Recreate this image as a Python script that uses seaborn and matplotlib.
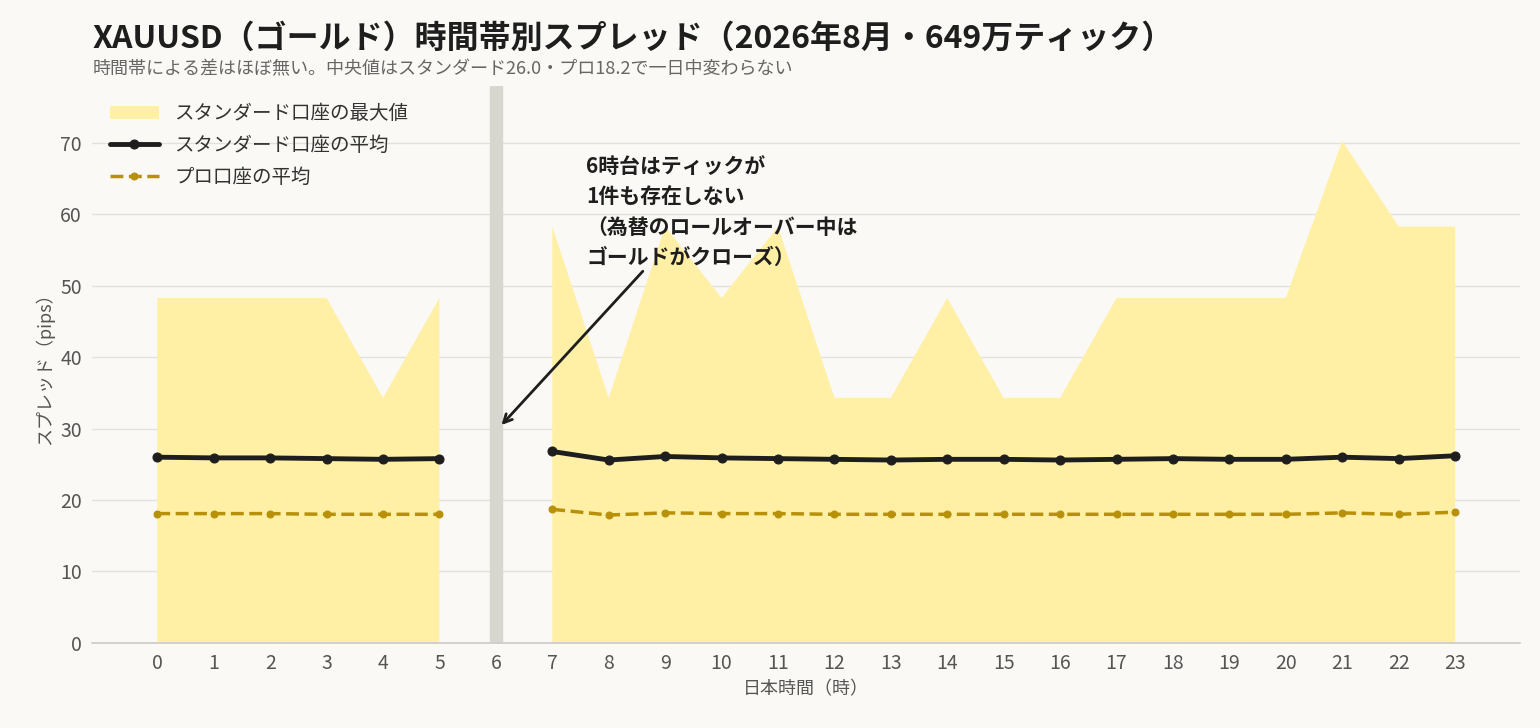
import numpy as np
import pandas as pd
import matplotlib
matplotlib.use("Agg")
import matplotlib.pyplot as plt
import seaborn as sns

hours = list(range(24))
std_max = [48.3,48.3,48.3,48.3,34.3,48.3,np.nan,58.3,34.3,58.3,48.3,58.3,34.3,34.3,48.3,34.3,34.3,48.3,48.3,48.3,48.3,70.3,58.3,58.3]
std_mean = [26.0,25.9,25.9,25.8,25.7,25.8,np.nan,26.8,25.6,26.1,25.9,25.8,25.7,25.6,25.7,25.7,25.6,25.7,25.8,25.7,25.7,26.0,25.8,26.2]
pro_mean = [18.1,18.1,18.1,18.0,18.0,18.0,np.nan,18.7,17.9,18.2,18.1,18.1,18.0,18.0,18.0,18.0,18.0,18.0,18.0,18.0,18.0,18.2,18.0,18.3]

sns.set_theme(style="white")
plt.rcParams['font.family'] = ['Noto Sans CJK JP', 'DejaVu Sans']
bg = "#FAF9F5"
fig, ax = plt.subplots(figsize=(15.4, 7.28), dpi=100)
fig.patch.set_facecolor(bg); ax.set_facecolor(bg)
fig.subplots_adjust(left=0.06, right=0.987, top=0.882, bottom=0.117)

df = pd.DataFrame({"h": hours, "mx": std_max, "sm": std_mean, "pm": pro_mean})
ax.axvspan(5.89, 6.11, color="#D8D7CF", zorder=1)
ax.fill_between(df.h, 0, df.mx, color="#FFF0A5", lw=0, zorder=2, label="スタンダード口座の最大値")
for i, seg in enumerate([df[df.h < 6], df[df.h > 6]]):
    sns.lineplot(data=seg, x="h", y="sm", ax=ax, color="#1E1E1E", lw=3.5, marker="o", ms=6.5,
                 mec="#1E1E1E", label="スタンダード口座の平均" if i == 0 else None, zorder=4)
    sns.lineplot(data=seg, x="h", y="pm", ax=ax, color="#B8900A", lw=2.5, ls="--", marker="o", ms=5,
                 mec="#B8900A", label="プロ口座の平均" if i == 0 else None, zorder=3)

ax.set_xlim(-1.15, 24.15); ax.set_ylim(0, 78)
ax.set_xticks(hours); ax.set_yticks(range(0, 71, 10))
ax.tick_params(colors="#555555", labelsize=14, length=4)
ax.grid(axis="y", color="#E2E1DC", lw=1)
for s in ["top", "right", "left"]:
    ax.spines[s].set_visible(False)
ax.spines["bottom"].set_color("#CCCCCC")
ax.set_xlabel("日本時間（時）", fontsize=13, color="#555555")
ax.set_ylabel("スプレッド（pips）", fontsize=13, color="#555555")
leg = ax.legend(loc="upper left", frameon=False, fontsize=14, handlelength=2.5, labelspacing=0.55)
for t in leg.get_texts(): t.set_color("#333333")

ax.annotate("6時台はティックが\n1件も存在しない\n（為替のロールオーバー中は\nゴールドがクローズ）",
            xy=(6.1, 30.5), xytext=(7.6, 52.5), fontsize=15, fontweight="bold", color="#1E1E1E",
            ha="left", va="bottom", linespacing=1.55,
            arrowprops=dict(arrowstyle="->", color="#1E1E1E", lw=2, shrinkA=0, shrinkB=0,
                            relpos=(0.22, 0)))
fig.text(0.06, 0.925, "XAUUSD（ゴールド）時間帯別スプレッド（2026年8月・649万ティック）",
         fontsize=23, fontweight="bold", color="#1E1E1E", va="bottom")
fig.text(0.06, 0.893, "時間帯による差はほぼ無い。中央値はスタンダード26.0・プロ18.2で一日中変わらない",
         fontsize=13, color="#666666", va="bottom")
fig.savefig("out.png", facecolor=bg)
